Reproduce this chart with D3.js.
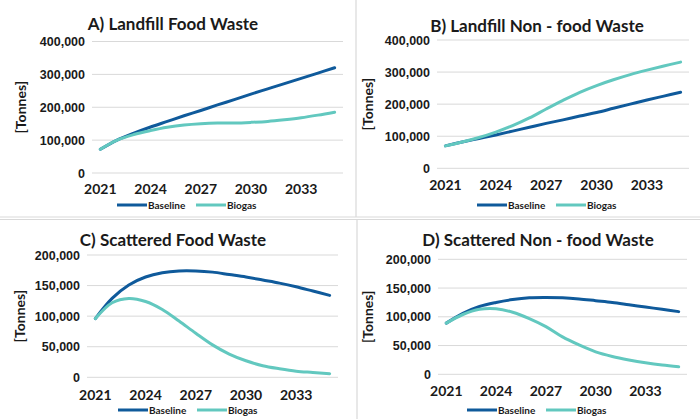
<!DOCTYPE html>
<html>
<head>
<meta charset="utf-8">
<script src="https://cdn.jsdelivr.net/npm/d3@7"></script>
<style>
    body { margin: 0; background: #fff; }
    svg { display: block; font-family: Lato, "Open Sans", sans-serif; font-weight: 700; }
</style>
</head>
<body>
<svg id="chart" width="700" height="419"></svg>
<script>
// data, tonnes per year
let years = d3.range(2021, 2036);
let year_labels = [2021, 2024, 2027, 2030, 2033];
let series_names = ["Baseline", "Biogas"];

let landfill_food_baseline = [72000, 100000, 121000, 140000, 157000, 174000, 190000, 207000, 223000, 240000, 256000, 272000, 288000, 304000, 320000];
let landfill_food_biogas = [72000, 100000, 117000, 129000, 139000, 146000, 150000, 152000, 152000, 154000, 157000, 162000, 168000, 176000, 185000];
let landfill_nonfood_baseline = [70000, 82000, 93000, 104000, 116000, 128000, 140000, 151000, 163000, 174000, 187000, 200000, 213000, 225000, 237000];
let landfill_nonfood_biogas = [70000, 82000, 96000, 113000, 133000, 157000, 185000, 212000, 237000, 258000, 276000, 292000, 306000, 319000, 331000];
let scattered_food_baseline = [96000, 129000, 151000, 164000, 171000, 174000, 174000, 172000, 168000, 164000, 159000, 154000, 148000, 141000, 134000];
let scattered_food_biogas = [96000, 122000, 129000, 124000, 111000, 92000, 72000, 53000, 38000, 27000, 19000, 14000, 10000, 8000, 6000];
let scattered_nonfood_baseline = [89000, 106000, 118000, 125000, 130000, 133000, 133500, 133000, 131000, 128000, 125000, 121000, 117000, 113000, 109000];
let scattered_nonfood_biogas = [89000, 104000, 113000, 114000, 108000, 97000, 83000, 65000, 51000, 39000, 31000, 25000, 20000, 16000, 13000];

let ticks_landfill = [0, 100000, 200000, 300000, 400000];
let ticks_scattered = [0, 50000, 100000, 150000, 200000];

let colors = { Baseline: "#0f5a9b", Biogas: "#62c8bf" };

let panels = [
    { title: "A) Landfill Food Waste", values: [landfill_food_baseline, landfill_food_biogas], ticks: ticks_landfill,
      left: 92, right: 343, top: 41.5, bottom: 173, tx: 173, ty: 30, xl: 194, lg: 117, ly: 205, yl: 21 },
    { title: "B) Landfill Non - food Waste", values: [landfill_nonfood_baseline, landfill_nonfood_biogas], ticks: ticks_landfill,
      left: 437, right: 689, top: 40, bottom: 168.3, tx: 537, ty: 32, xl: 190, lg: 477, ly: 205, yl: 368 },
    { title: "C) Scattered Food Waste", values: [scattered_food_baseline, scattered_food_biogas], ticks: ticks_scattered,
      left: 87, right: 338, top: 255, bottom: 377.3, tx: 173, ty: 246, xl: 400, lg: 118, ly: 410, yl: 20 },
    { title: "D) Scattered Non - food Waste", values: [scattered_nonfood_baseline, scattered_nonfood_biogas], ticks: ticks_scattered,
      left: 438, right: 687, top: 259.3, bottom: 374.3, tx: 538, ty: 246, xl: 396, lg: 467, ly: 410, yl: 368 }
];

let svg = d3.select("#chart");

// panel separators
let sep = svg.append("g").attr("stroke", "#d9d9d9").attr("stroke-width", 1.2);
sep.append("line").attr("x1", 356).attr("x2", 356).attr("y1", 0).attr("y2", 217);
sep.append("line").attr("x1", 357).attr("x2", 357).attr("y1", 219).attr("y2", 419);
sep.append("line").attr("x1", 0).attr("x2", 700).attr("y1", 217).attr("y2", 217);
sep.append("line").attr("x1", 0).attr("x2", 700).attr("y1", 219.5).attr("y2", 219.5);

function draw_panel(p) {
    let g = svg.append("g");
    let x = d3.scalePoint().domain(years).range([p.left, p.right]).padding(0.5);
    let y = d3.scaleLinear().domain([0, d3.max(p.ticks)]).range([p.bottom, p.top]);

    // gridlines
    g.selectAll(".grid")
        .data(p.ticks).enter()
        .append("line")
        .attr("x1", p.left).attr("x2", p.right)
        .attr("y1", d => y(d)).attr("y2", d => y(d))
        .attr("stroke", "#d9d9d9").attr("stroke-width", 1);

    // y axis labels
    let y_axis = d3.axisLeft(y).tickValues(p.ticks).tickFormat(d3.format(",")).tickSize(0).tickPadding(7);
    let ya = g.append("g").attr("transform", `translate(${p.left}, 0)`).call(y_axis);
    ya.select(".domain").remove();
    ya.selectAll("text").attr("font-size", 12.5).attr("font-family", null).attr("fill", "#1a1a1a");

    // x axis labels
    g.selectAll(".xl")
        .data(year_labels).enter()
        .append("text")
        .attr("x", d => x(d))
        .attr("y", p.xl)
        .attr("text-anchor", "middle")
        .attr("font-size", 14)
        .attr("fill", "#1a1a1a")
        .text(d => d);

    // lines, smoothed like the spreadsheet original
    let line = d3.line()
        .x((d, i) => x(years[i]))
        .y(d => y(d))
        .curve(d3.curveCatmullRom.alpha(0.5));
    g.selectAll(".series")
        .data(p.values).enter()
        .append("path")
        .attr("d", line)
        .attr("fill", "none")
        .attr("stroke", (d, i) => colors[series_names[i]])
        .attr("stroke-width", 3)
        .attr("stroke-linecap", "round");

    // title
    g.append("text")
        .attr("x", p.tx).attr("y", p.ty)
        .attr("text-anchor", "middle")
        .attr("font-size", 17)
        .attr("fill", "#1a1a1a")
        .text(p.title);

    // y label
    g.append("text")
        .attr("transform", `translate(${p.yl + 5}, ${(p.top + p.bottom) / 2}) rotate(-90)`)
        .attr("text-anchor", "middle")
        .attr("font-size", 14)
        .attr("fill", "#1a1a1a")
        .text("[Tonnes]");

    // legend
    let lg = g.append("g").attr("transform", `translate(${p.lg}, ${p.ly})`);
    let offsets = [0, 79];
    series_names.forEach((s, i) => {
        lg.append("line")
            .attr("x1", offsets[i]).attr("x2", offsets[i] + 30)
            .attr("y1", 0).attr("y2", 0)
            .attr("stroke", colors[s]).attr("stroke-width", 3);
        lg.append("text")
            .attr("x", offsets[i] + 31).attr("y", 3.5)
            .attr("font-size", 10)
            .attr("fill", "#1a1a1a")
            .text(s);
    });
}

panels.forEach(draw_panel);
</script>
</body>
</html>
